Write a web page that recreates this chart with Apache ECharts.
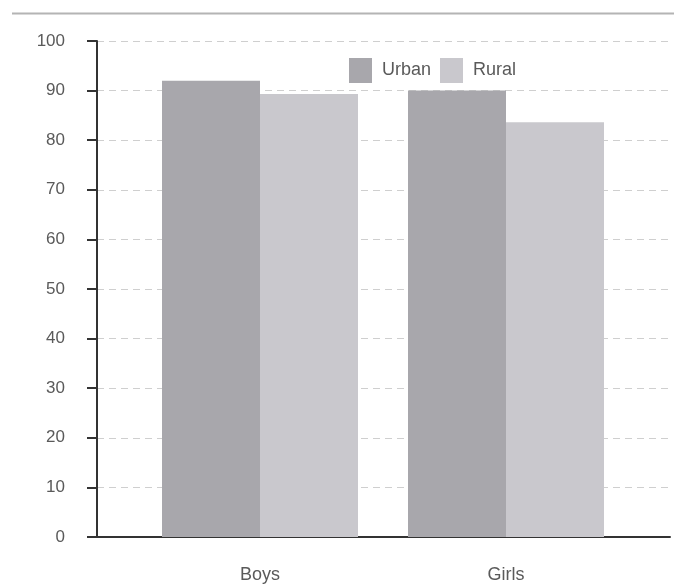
<!DOCTYPE html>
<html><head><meta charset="utf-8">
<script src="https://cdn.jsdelivr.net/npm/echarts@6/dist/echarts.min.js"></script>
<style>html,body{margin:0;padding:0;background:#fff}#c{width:674px;height:584px}</style>
</head><body><div id="c"></div>
<script>
const categories = ['Boys', 'Girls'];
const urbanValues = [92, 90];
const ruralValues = [89.3, 83.6];
const seriesNames = ['Urban', 'Rural'];
const yTicks = [0, 10, 20, 30, 40, 50, 60, 70, 80, 90, 100];

const chart = echarts.init(document.getElementById('c'));
const font = '"Liberation Sans", Arial, sans-serif';
chart.setOption({
  backgroundColor: '#fff',
  animation: false,
  graphic: [{type:'line', shape:{x1:12,y1:13.5,x2:674,y2:13.5}, style:{stroke:'#b4b4b4', lineWidth:2}}],
  legend: {
    data: seriesNames, left: 344, top: 53, itemWidth: 23, itemHeight: 25, itemGap: 9, icon: 'rect',
    textStyle: {color:'#5a5a5a', fontSize:18, fontFamily:font, padding:[0,0,0,5]}
  },
  grid: [
    {left: 97, right: 4, top: 41, bottom: 47},
    {left: 137, width: 492, top: 41, bottom: 47}
  ],
  xAxis: [
    {gridIndex:0, type:'category', data:categories, axisLine:{show:true, lineStyle:{color:'#333', width:2}},
     axisTick:{show:false}, axisLabel:{show:false}, splitLine:{show:false}},
    {gridIndex:1, type:'category', data:categories, axisLine:{show:false}, axisTick:{show:false},
     axisLabel:{color:'#5a5a5a', fontSize:18, fontFamily:font, margin:29}}
  ],
  yAxis: [
    {gridIndex:0, type:'value', min:yTicks[0], max:yTicks[yTicks.length-1], interval:10,
     axisLine:{show:true, lineStyle:{color:'#333', width:2}},
     axisTick:{show:true, length:10, lineStyle:{color:'#333', width:2}},
     axisLabel:{color:'#5a5a5a', fontSize:17, fontFamily:font, margin:32},
     splitLine:{show:true, lineStyle:{color:'#cfcfcf', type:[7,5], width:1}}},
    {gridIndex:1, type:'value', min:yTicks[0], max:yTicks[yTicks.length-1], interval:10, show:false}
  ],
  series: [
    {name:seriesNames[0], type:'bar', xAxisIndex:1, yAxisIndex:1, data:urbanValues, barWidth:98, barGap:'0%',
     itemStyle:{color:'#a8a7ac'}},
    {name:seriesNames[1], type:'bar', xAxisIndex:1, yAxisIndex:1, data:ruralValues, barWidth:98, barGap:'0%',
     itemStyle:{color:'#c9c8cd'}}
  ]
});
</script></body></html>
